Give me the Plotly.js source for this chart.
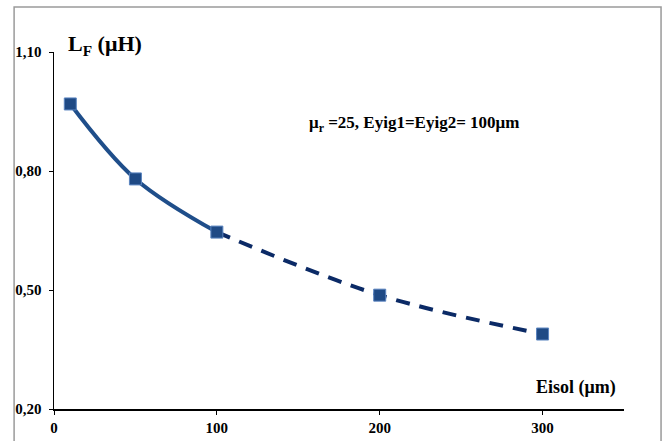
<!DOCTYPE html>
<html>
<head>
<meta charset="utf-8">
<script src="https://cdn.plot.ly/plotly-3.0.1.min.js"></script>
<style>html,body{margin:0;padding:0;background:#fff;}#chart{width:670px;height:441px;}</style>
</head>
<body>
<div id="chart"></div>
<script>
// Data
const eisol = [10, 50, 100, 200, 300];          // Eisol (µm)
const lf = [0.969, 0.780, 0.646, 0.487, 0.389]; // L_F (µH)
const solidIdx = [0, 1, 2];   // measured segment (solid)
const dashIdx = [2, 3, 4];    // extrapolated segment (dashed)
const yTicks = [0.2, 0.5, 0.8, 1.1];
const xTicks = [0, 100, 200, 300];

const F = 'Liberation Serif';

const traces = [
  {x: solidIdx.map(i => eisol[i]), y: solidIdx.map(i => lf[i]), mode: 'lines', type: 'scatter',
   line: {color: '#1F4E8A', width: 4, shape: 'spline', smoothing: 1}, hoverinfo: 'skip'},
  {x: dashIdx.map(i => eisol[i]), y: dashIdx.map(i => lf[i]), mode: 'lines', type: 'scatter',
   line: {color: '#0B2A66', width: 4, dash: '14px,10px', shape: 'spline', smoothing: 1}, hoverinfo: 'skip'},
  {x: eisol, y: lf, mode: 'markers', type: 'scatter',
   marker: {symbol: 'square', size: 12, color: '#1F4A85', line: {color: '#5B85C0', width: 1}}}
];

const layout = {
  width: 670, height: 441,
  margin: {l: 54, r: 46, t: 52, b: 32},
  paper_bgcolor: '#fff', plot_bgcolor: '#fff',
  showlegend: false,
  separators: ',.',
  font: {family: F, color: '#000', size: 15},
  xaxis: {range: [0, 350], tickvals: xTicks, ticktext: xTicks.map(String),
          showgrid: false, zeroline: false, showline: true, linecolor: '#000', linewidth: 1.5,
          ticks: 'outside', ticklen: 4, tickcolor: '#000',
          tickfont: {family: F, size: 15, color: '#000', weight: 'bold'}},
  yaxis: {range: [0.2, 1.1], tickvals: yTicks, tickformat: '.2f',
          showgrid: false, zeroline: false, showline: true, linecolor: '#000', linewidth: 1.5,
          ticks: 'outside', ticklen: 4, tickcolor: '#000', ticklabelstandoff: 4,
          tickfont: {family: F, size: 15, color: '#000', weight: 'bold'}},
  shapes: [
    {type: 'rect', xref: 'paper', yref: 'paper', x0: -0.070, x1: 1.065, y0: -0.2, y1: 1.126,
     line: {color: '#9a9a9a', width: 1.5}, fillcolor: 'rgba(0,0,0,0)', layer: 'below'}
  ],
  annotations: [
    {text: 'L<sub>F</sub> (μH)', xref: 'paper', yref: 'paper', x: 0.021, y: 1.02,
     xanchor: 'left', yanchor: 'middle', showarrow: false, font: {family: F, size: 22, color: '#000', weight: 'bold'}},
    {text: 'μ<sub>r</sub> =25, Eyig1=Eyig2= 100μm', xref: 'paper', yref: 'paper', x: 0.444, y: 0.798,
     xanchor: 'left', yanchor: 'middle', showarrow: false, font: {family: F, size: 17, color: '#000', weight: 'bold'}},
    {text: 'Eisol (μm)', xref: 'paper', yref: 'paper', x: 0.989, y: 0.059,
     xanchor: 'right', yanchor: 'middle', showarrow: false, font: {family: F, size: 18, color: '#000', weight: 'bold'}}
  ]
};

Plotly.newPlot('chart', traces, layout, {displayModeBar: false, staticPlot: true});
</script>
</body>
</html>
